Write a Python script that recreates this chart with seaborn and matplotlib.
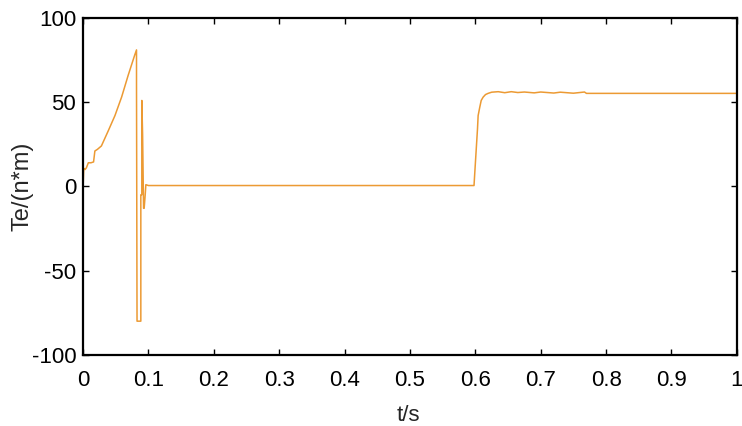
import numpy as np
import pandas as pd
import matplotlib
matplotlib.use("Agg")
import matplotlib.pyplot as plt
import seaborn as sns

# datos: tiempo (s) y par electromagnético Te (N*m)
tiempo = [0.000, 0.001, 0.003, 0.005, 0.008, 0.012, 0.016, 0.018, 0.022, 0.028,
          0.0385, 0.0487, 0.0589, 0.069, 0.079, 0.0817, 0.0817, 0.0825, 0.0883,
          0.0883, 0.0898, 0.0898, 0.0910, 0.0925, 0.0934, 0.0950, 0.0960, 0.1000,
          0.1020, 0.5980, 0.5990, 0.6017, 0.6033, 0.6043, 0.6068, 0.6090, 0.6120,
          0.6156, 0.6195, 0.625, 0.635, 0.645, 0.655, 0.665, 0.675, 0.690, 0.700,
          0.720, 0.730, 0.750, 0.767, 0.770, 1.000]
par = [0.0, 10.7, 10.0, 11.0, 14.0, 14.0, 14.5, 21.0, 22.0, 24.0,
       33.0, 42.0, 53.0, 66.0, 78.0, 81.0, 60.0, -80.0, -80.0,
       -5.0, -5.0, 51.0, 31.0, -13.0, -13.0, -5.0, 1.0, 0.5,
       0.5, 0.5, 7.0, 24.0, 34.0, 42.0, 47.0, 51.0, 53.0,
       54.5, 55.2, 55.9, 56.2, 55.6, 56.2, 55.7, 56.0, 55.5, 56.0,
       55.4, 55.9, 55.3, 56.0, 55.2, 55.2]

x_ticks = [0, 0.1, 0.2, 0.3, 0.4, 0.5, 0.6, 0.7, 0.8, 0.9, 1]
x_labels = ["0", "0.1", "0.2", "0.3", "0.4", "0.5", "0.6", "0.7", "0.8", "0.9", "1"]
y_ticks = [-100, -50, 0, 50, 100]

df = pd.DataFrame({"t": tiempo, "Te": par})

sns.set_style("ticks")
plt.rcParams['font.family'] = ['Liberation Sans', 'DejaVu Sans']
plt.rcParams['axes.unicode_minus'] = False

fig = plt.figure(figsize=(7.42, 4.26), dpi=100)
ax = fig.add_axes([0.112, 0.167, 0.881, 0.791])

sns.lineplot(data=df, x="t", y="Te", estimator=None, sort=False,
             color="#EC9A33", linewidth=1.1, ax=ax)

ax.set_xlim(0, 1)
ax.set_ylim(-100, 100)
ax.set_xticks(x_ticks)
ax.set_xticklabels(x_labels)
ax.set_yticks(y_ticks)
ax.tick_params(direction="in", length=4, width=1, top=True, right=True,
               labelsize=16, colors="black")
ax.tick_params(axis="x", pad=11)
ax.tick_params(axis="y", pad=5)
for s in ax.spines.values():
    s.set_visible(True)
    s.set_linewidth(1.6)
    s.set_color("black")

ax.set_xlabel("t/s", fontsize=16)
ax.set_ylabel("Te/(n*m)", fontsize=17)
ax.xaxis.set_label_coords(0.498, -0.148)
ax.yaxis.set_label_coords(-0.076, 0.5)

fig.savefig("out.png", dpi=100)
